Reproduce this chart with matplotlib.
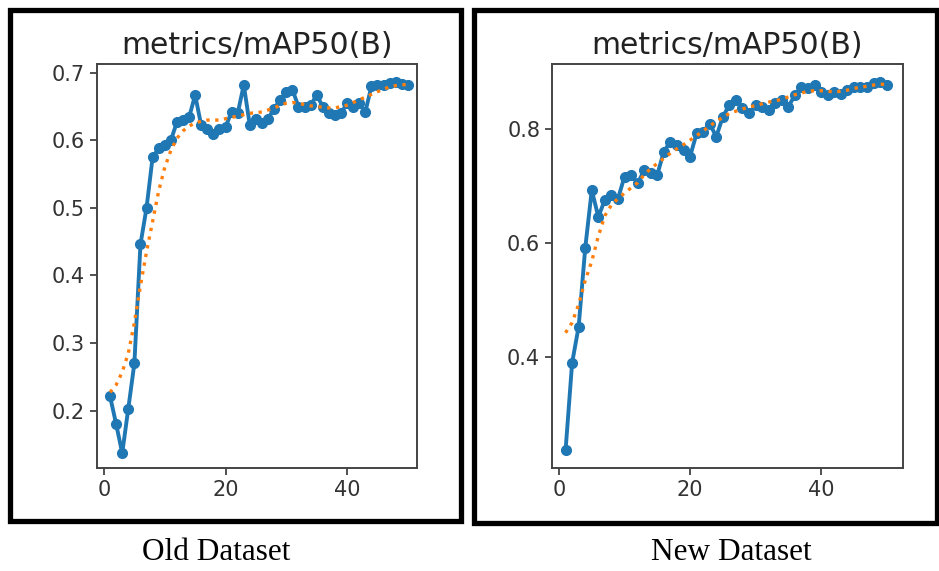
#!/usr/bin/env python3
import matplotlib
matplotlib.use('Agg')
import matplotlib.pyplot as plt
from matplotlib.patches import Rectangle

W, H = 939, 571

epochs = list(range(1, 51))

# mAP50 per epoch, old dataset
old_map50 = [0.221, 0.180, 0.137, 0.203, 0.270, 0.446, 0.500, 0.575, 0.588, 0.593,
             0.600, 0.627, 0.630, 0.634, 0.667, 0.622, 0.617, 0.610, 0.617, 0.620,
             0.642, 0.640, 0.682, 0.622, 0.632, 0.625, 0.632, 0.647, 0.660, 0.672,
             0.675, 0.650, 0.650, 0.652, 0.667, 0.650, 0.640, 0.637, 0.640, 0.655,
             0.650, 0.655, 0.642, 0.680, 0.682, 0.682, 0.685, 0.686, 0.683, 0.682]
old_smooth = [0.227, 0.238, 0.257, 0.285, 0.330, 0.385, 0.435, 0.480, 0.525, 0.560,
              0.585, 0.603, 0.614, 0.621, 0.626, 0.628, 0.630, 0.630, 0.630, 0.632,
              0.634, 0.636, 0.638, 0.640, 0.641, 0.642, 0.645, 0.648, 0.652, 0.655,
              0.656, 0.655, 0.653, 0.651, 0.650, 0.649, 0.648, 0.648, 0.650, 0.652,
              0.656, 0.660, 0.664, 0.668, 0.672, 0.676, 0.679, 0.681, 0.682, 0.683]

# mAP50 per epoch, new dataset
new_map50 = [0.235, 0.389, 0.453, 0.591, 0.693, 0.646, 0.676, 0.684, 0.678, 0.717,
             0.720, 0.705, 0.728, 0.723, 0.720, 0.761, 0.778, 0.772, 0.764, 0.752,
             0.793, 0.796, 0.810, 0.787, 0.822, 0.843, 0.852, 0.837, 0.828, 0.843,
             0.840, 0.834, 0.846, 0.852, 0.840, 0.860, 0.875, 0.872, 0.878, 0.866,
             0.860, 0.866, 0.863, 0.869, 0.875, 0.875, 0.875, 0.881, 0.884, 0.878]
new_smooth = [0.442, 0.460, 0.492, 0.534, 0.568, 0.612, 0.648, 0.667, 0.678, 0.688,
              0.697, 0.706, 0.720, 0.731, 0.740, 0.749, 0.758, 0.766, 0.773, 0.781,
              0.789, 0.797, 0.806, 0.814, 0.821, 0.828, 0.832, 0.836, 0.839, 0.842,
              0.845, 0.848, 0.850, 0.853, 0.857, 0.861, 0.864, 0.867, 0.868, 0.868,
              0.867, 0.866, 0.867, 0.869, 0.872, 0.874, 0.876, 0.878, 0.879, 0.880]

title = 'metrics/mAP50(B)'
captions = ['Old Dataset', 'New Dataset']


def frac(x0, y0, x1, y1):
    # pixel box (top-left origin) -> figure fraction rect
    return [x0 / W, 1 - y1 / H, (x1 - x0) / W, (y1 - y0) / H]


def plot_panel(fig, rect, y, ys, xlim, ylim, yticks):
    ax = fig.add_axes(frac(*rect))
    ax.plot(epochs, y, marker='o', color='#1f77b4', linewidth=2.8, markersize=7)
    ax.plot(epochs, ys, ':', color='#ff7f0e', linewidth=2.4)
    ax.set_title(title, fontsize=21.5, pad=7, color='#222222')
    ax.set_xlim(*xlim)
    ax.set_ylim(*ylim)
    ax.set_xticks([0, 20, 40])
    ax.set_yticks(yticks)
    ax.tick_params(labelsize=15, length=5, width=1.2, colors='#333333')
    for s in ax.spines.values():
        s.set_color('#444444')
        s.set_linewidth(1.4)
    return ax


def main():
    fig = plt.figure(figsize=(W / 100, H / 100), dpi=100)

    plot_panel(fig, (97, 64, 417, 468), old_map50, old_smooth,
               (-1.15, 51.5), (0.115, 0.713), [0.2, 0.3, 0.4, 0.5, 0.6, 0.7])
    plot_panel(fig, (552, 64, 903, 468), new_map50, new_smooth,
               (-1.07, 52.5), (0.204, 0.915), [0.4, 0.6, 0.8])

    # black frames round each panel
    for x0, y0, x1, y1 in [(10, 10, 461, 521), (474, 10, 937, 523)]:
        fig.add_artist(Rectangle((x0 / W, 1 - y1 / H), (x1 - x0) / W, (y1 - y0) / H,
                                 transform=fig.transFigure, fill=False,
                                 edgecolor='black', linewidth=3.8))

    for cx, text in zip([216, 731], captions):
        fig.text(cx / W, 1 - 553 / H, text, ha='center', va='center',
                 fontsize=22.5, family='Liberation Serif')

    fig.savefig('out.png', dpi=100)


if __name__ == '__main__':
    main()
